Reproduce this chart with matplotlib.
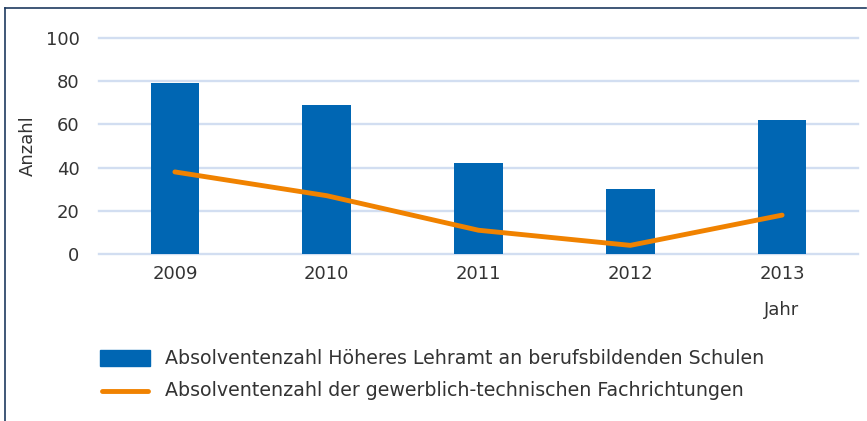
import matplotlib
matplotlib.use("Agg")
from matplotlib import pyplot as plt
from matplotlib.patches import Rectangle
from matplotlib.lines import Line2D

jahre = ["2009", "2010", "2011", "2012", "2013"]
lehramt = [79, 69, 42, 30, 62]
gewerblich = [38, 27, 11, 4, 18]
yticks = [0, 20, 40, 60, 80, 100]

blau = "#0066b3"
orange = "#f08200"
text_farbe = "#333333"
gr = 13

plt.rcParams["font.family"] = ["DejaVu Sans"]

fig = plt.figure(figsize=(8.67, 4.21), dpi=100)
ax = fig.add_axes([99 / 867, 1 - 254 / 421, (858 - 99) / 867, (254 - 38) / 421])

x = range(len(jahre))
ax.bar(x, lehramt, width=0.32, color=blau, zorder=2)
ax.plot(x, gewerblich, color=orange, linewidth=3.5, solid_capstyle="round", zorder=3)

ax.set_xlim(-0.5, len(jahre) - 0.5)
ax.set_ylim(0, 100)
ax.set_yticks(yticks)
ax.set_xticks(list(x))
ax.set_xticklabels(jahre)
ax.grid(axis="y", color="#d2def1", linewidth=1.7, zorder=0)
for gl in ax.get_ygridlines():
    gl.set_clip_on(False)
ax.set_axisbelow(True)
for s in ax.spines.values():
    s.set_visible(False)
ax.tick_params(length=0, labelsize=gr, colors=text_farbe, pad=8)
ax.tick_params(axis="y", pad=14)
ax.set_ylabel("Anzahl", fontsize=gr, color=text_farbe)
ax.yaxis.set_label_coords(-(99 - 37) / 759, 0.5)
fig.text(782 / 867, 1 - 310 / 421, "Jahr", fontsize=gr, color=text_farbe,
         ha="center", va="center")

# Rahmen oben und links
fig.add_artist(Line2D([5 / 867, 866 / 867], [1 - 8 / 421, 1 - 8 / 421],
                      color="#1f3b60", linewidth=1.2))
fig.add_artist(Line2D([5 / 867, 5 / 867], [1 - 8 / 421, 0],
                      color="#1f3b60", linewidth=1.2))

# Legende
fig.add_artist(Rectangle((100 / 867, 1 - 366 / 421), 50 / 867, 16 / 421,
                         color=blau, transform=fig.transFigure))
fig.text(165 / 867, 1 - 358 / 421,
         "Absolventenzahl Höheres Lehramt an berufsbildenden Schulen",
         fontsize=13.7, color=text_farbe, va="center")
fig.add_artist(Line2D([102 / 867, 148 / 867], [1 - 391 / 421, 1 - 391 / 421],
                      color=orange, linewidth=3.5, solid_capstyle="round"))
fig.text(165 / 867, 1 - 391 / 421,
         "Absolventenzahl der gewerblich-technischen Fachrichtungen",
         fontsize=13.7, color=text_farbe, va="center")

fig.savefig("out.png", dpi=100)
